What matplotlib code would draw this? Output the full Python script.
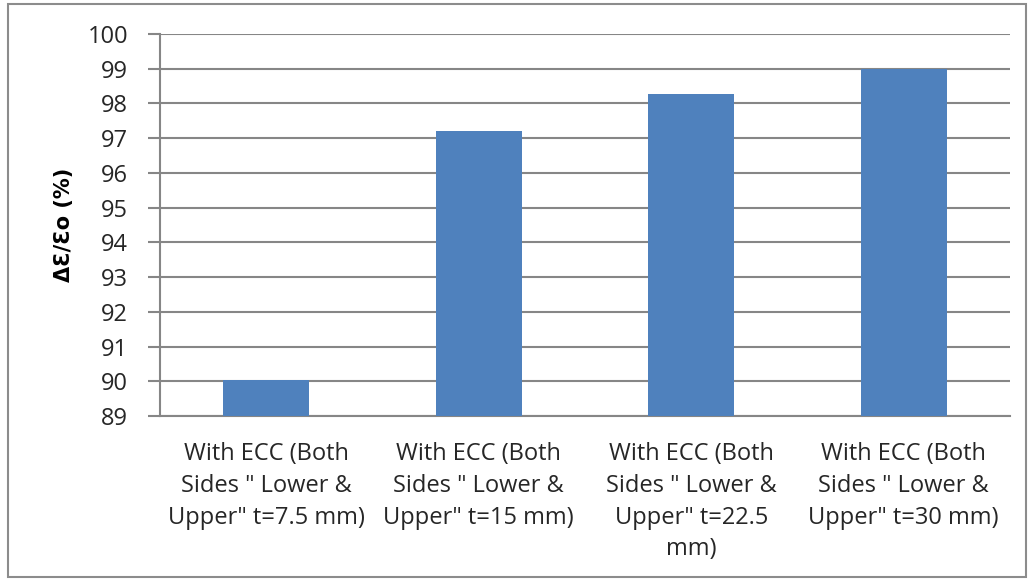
import matplotlib
matplotlib.use("Agg")
import matplotlib.pyplot as plt
from matplotlib.patches import Rectangle

# Data
categories = [
    'With ECC (Both\nSides " Lower &\nUpper" t=7.5 mm)',
    'With ECC (Both\nSides " Lower &\nUpper" t=15 mm)',
    'With ECC (Both\nSides " Lower &\nUpper" t=22.5\nmm)',
    'With ECC (Both\nSides " Lower &\nUpper" t=30 mm)',
]
values = [90.05, 97.2, 98.27, 99.0]
yticks = list(range(89, 101))

bar_color = '#4F81BD'
grid_color = '#868686'
text_color = '#262626'
fonts = ['Open Sans', 'DejaVu Sans']

fig = plt.figure(figsize=(10.36, 5.81), dpi=100)
ax = fig.add_axes([160 / 1036, 1 - 416 / 581, 850 / 1036, 382 / 581])

x = list(range(len(categories)))
ax.bar(x, [v - 89 for v in values], bottom=89, width=0.405, color=bar_color, zorder=3)

ax.set_ylim(89, 100)
ax.set_xlim(-0.5, len(categories) - 0.5)
ax.set_yticks(yticks)
ax.set_yticklabels([str(t) for t in yticks], fontsize=17, family=fonts, color=text_color)
ax.set_xticks(x)
ax.set_xticklabels(categories, fontsize=17, family=fonts, color=text_color, linespacing=1.42)
ax.tick_params(axis='x', length=0, pad=19)
ax.tick_params(axis='y', length=9, width=1.5, color=grid_color, pad=14)

ax.grid(axis='y', color=grid_color, linewidth=1.5, zorder=0)
for side in ['top', 'right']:
    ax.spines[side].set_visible(False)
for side in ['left', 'bottom']:
    ax.spines[side].set_color(grid_color)
    ax.spines[side].set_linewidth(1.5)

ax.set_ylabel('ΔƐ/Ɛo (%)', fontsize=15, fontweight='bold', family=['DejaVu Sans'],
              color='black', labelpad=10)

# outer chart border
fig.patches.append(Rectangle((8 / 1036, 4 / 581), 1018 / 1036, 573 / 581,
                             transform=fig.transFigure, fill=False,
                             edgecolor='#8C8C8C', linewidth=1.5))

fig.savefig('out.png', dpi=100)
